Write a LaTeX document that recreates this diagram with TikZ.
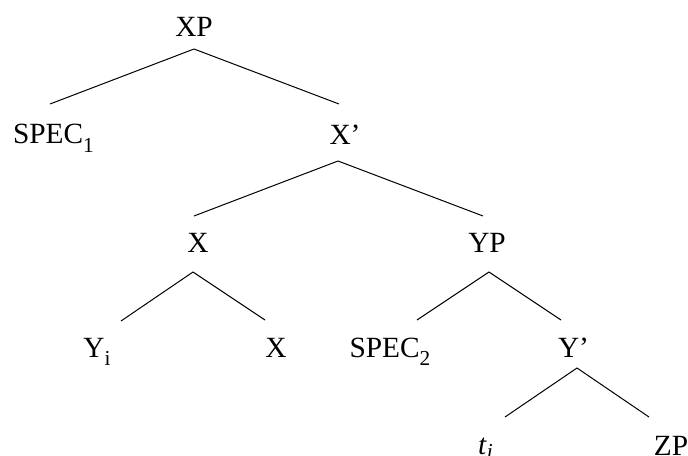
\documentclass[tikz,border=0pt]{standalone}
\usepackage{fontspec}
\setmainfont{Liberation Serif}
\usetikzlibrary{calc}

\newcommand{\lowsub}[2][-6.5pt]{\raisebox{#1}{\fontsize{16}{16}\selectfont #2}}

\begin{document}
\begin{tikzpicture}[
    x=0.75pt, y=-0.75pt,
    cat/.style={inner sep=0pt, anchor=base, font=\fontsize{22}{26}\selectfont},
    branch/.style={draw=black, line width=0.75pt}
]
    \useasboundingbox (0,0) rectangle (688,456);

    % Categories
    \node[cat] (xp) at (194,37) {XP};
    \node[cat] (spec1) at (53.5,144) {SPEC\lowsub{1}};
    \node[cat] (xbar) at (345,145) {X’};
    \node[cat] (xhead) at (198,252) {X};
    \node[cat] (yp) at (487,252) {YP};
    \node[cat] (yi) at (97,357) {Y\lowsub{i}};
    \node[cat] (xlow) at (276,357) {X};
    \node[cat] (spec2) at (390,357) {SPEC\lowsub{2}};
    \node[cat] (ybar) at (573.5,357) {Y’};
    \node[cat] (trace) at (485.5,454) {\textit{t}\lowsub[-3.5pt]{\textit{i}}};
    \node[cat] (zp) at (671,455) {ZP};

    % Branches
    \draw[branch] ($(xp.base)+(0,12)$) -- ($(spec1.base)+(-3.5,-40)$);
    \draw[branch] ($(xp.base)+(0,12)$) -- ($(xbar.base)+(-6,-41)$);
    \draw[branch] ($(xbar.base)+(-7,16)$) -- ($(xhead.base)+(-4,-36)$);
    \draw[branch] ($(xbar.base)+(-7,16)$) -- ($(yp.base)+(-4,-36)$);
    \draw[branch] ($(xhead.base)+(-5,20)$) -- ($(yi.base)+(24,-36)$);
    \draw[branch] ($(xhead.base)+(-5,20)$) -- ($(xlow.base)+(-11,-37)$);
    \draw[branch] ($(yp.base)+(2,20)$) -- ($(spec2.base)+(27,-37)$);
    \draw[branch] ($(yp.base)+(2,20)$) -- ($(ybar.base)+(-12.5,-37)$);
    \draw[branch] ($(ybar.base)+(3.5,11)$) -- ($(trace.base)+(19.5,-37)$);
    \draw[branch] ($(ybar.base)+(3.5,11)$) -- ($(zp.base)+(-22,-38)$);
\end{tikzpicture}
\end{document}
